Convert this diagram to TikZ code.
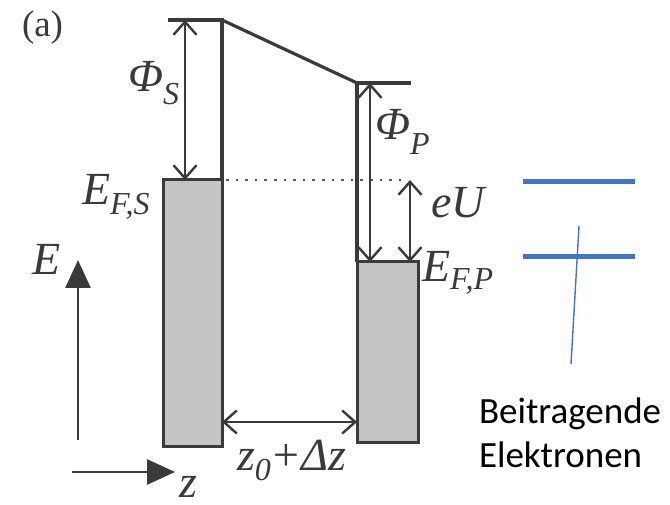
\documentclass[tikz,border=0pt]{standalone}
\usepackage{fontspec}
\setmainfont{Liberation Serif}
\newfontfamily\calib{Carlito}
\usetikzlibrary{arrows.meta}
\definecolor{ink}{RGB}{58,58,60}
\definecolor{boxgray}{RGB}{196,197,199}
\definecolor{offblue}{RGB}{68,114,196}
\newcommand\lbl[1]{\fontsize{46}{46}\selectfont\itshape #1}
\newcommand\sub[2][10pt]{\raisebox{-#1}{\fontsize{32}{32}\selectfont\itshape #2}}
\begin{document}
\begin{tikzpicture}[x=1pt,y=-1pt,
  every node/.style={inner sep=0pt,outer sep=0pt,text=ink},
  line/.style={draw=ink,line width=3.2pt,line join=miter},
  metal/.style={draw=ink,fill=boxgray,line width=3pt},
  dim/.style={draw=ink,line width=2.4pt,{Straight Barb[length=13pt,width=23pt]}-{Straight Barb[length=13pt,width=23pt]}},
  axis/.style={draw=ink,line width=2.6pt,-{Triangle[length=28pt,width=25pt]}},
  lvl/.style={draw=offblue,line width=5pt},
  thin/.style={draw=offblue,line width=1.4pt},
  lab/.style={anchor=base west}]
\useasboundingbox (0,0) rectangle (670,505);
% coordinates
\coordinate (TL) at (168,20);
\coordinate (TS) at (222,20);
\coordinate (TP) at (357,83);
\coordinate (TR) at (411,83);
\coordinate (FS) at (222,180);
\coordinate (FP) at (357,262);
\coordinate (DotEnd) at (405,180);
\coordinate (PhiSTop) at (185,20);
\coordinate (PhiSBot) at (185,180);
\coordinate (PhiPTop) at (370,83);
\coordinate (PhiPBot) at (370,262);
\coordinate (eUTop) at (410,180);
\coordinate (eUBot) at (410,262);
\coordinate (GapL) at (222,422);
\coordinate (GapR) at (357,422);
\coordinate (EStart) at (78,440);
\coordinate (EEnd) at (78,260);
\coordinate (zStart) at (72,472);
\coordinate (zEnd) at (175,472);
% metals
\draw[metal] (163,180) rectangle (222,446);
\draw[metal] (357,262) rectangle (418,442);
% barrier
\draw[line] (TL) -- (TS) -- (FS);
\draw[line] (TS) -- (TP);
\draw[line] (TR) -- (TP) -- (FP);
\draw[draw=ink!85,line width=2.5pt,dash pattern=on 2.5pt off 7.1pt,dash phase=-4pt] (FS) -- (DotEnd);
% dimension arrows
\draw[dim] (PhiSTop) -- (PhiSBot);
\draw[dim] (PhiPTop) -- (PhiPBot);
\draw[dim] (eUTop) -- (eUBot);
\draw[dim] (GapL) -- (GapR);
% axes
\draw[axis] (EStart) -- (EEnd);
\draw[axis] (zStart) -- (zEnd);
% labels
\node[lab] (a) at (22,37) {\fontsize{37}{37}\selectfont (a)};
\node[lab] (phis) at (128,92) {\lbl{Φ}\sub[13pt]{S}};
\node[lab] (efs) at (82,205) {\lbl{E}\sub{F,S}};
\node[lab] (phip) at (375,140) {\lbl{Φ}\sub[15pt]{P}};
\node[lab] (eu) at (431,218) {\lbl{eU}};
\node[lab] (efp) at (422,282) {\lbl{E}\sub[8pt]{F,P}};
\node[lab] (E) at (32,275) {\lbl{E}};
\node[lab] (z) at (179,497) {\lbl{z}};
\node[lab] (gap) at (237,470) {\lbl{z}\sub{0}{\fontsize{46}{46}\selectfont +}\lbl{Δz}};
% blue annotation
\coordinate (B1L) at (523,182);
\coordinate (B1R) at (635,182);
\coordinate (B2L) at (523,257);
\coordinate (B2R) at (635,257);
\coordinate (VT) at (579,226);
\coordinate (VB) at (571,364);
\draw[lvl] (B1L) -- (B1R);
\draw[lvl] (B2L) -- (B2R);
\draw[thin] (VT) -- (VB);
\node[lab,text=black] (beit) at (479,423) {\calib\fontsize{37}{37}\selectfont Beitragende};
\node[lab,text=black] (elek) at (479,467) {\calib\fontsize{37}{37}\selectfont Elektronen};
\end{tikzpicture}
\end{document}
